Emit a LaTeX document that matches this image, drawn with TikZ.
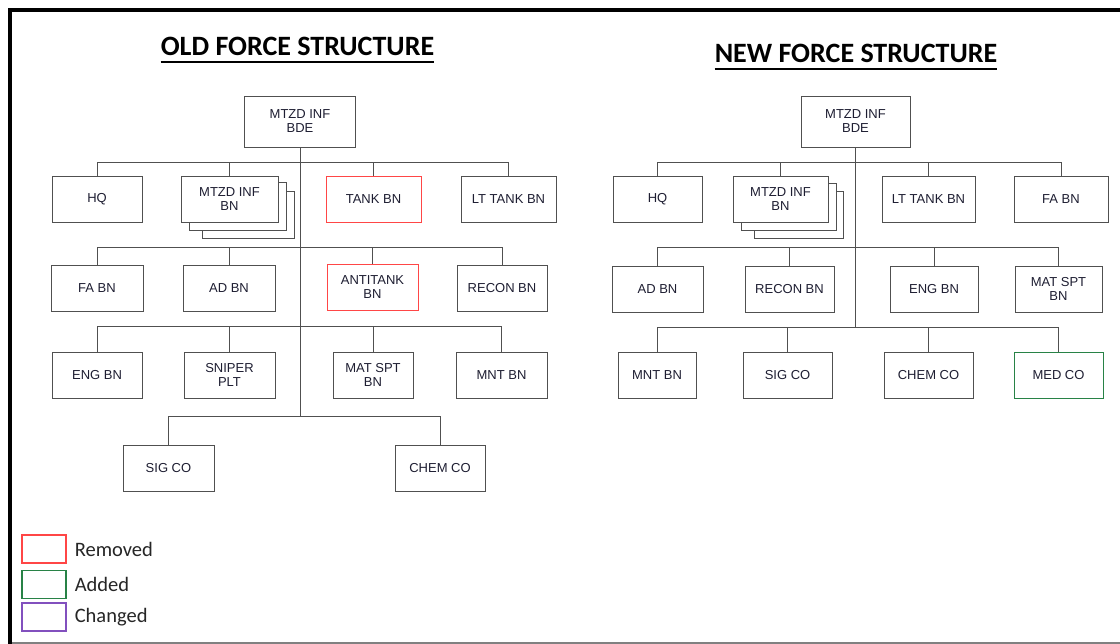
\documentclass[tikz,border=0pt]{standalone}
\usepackage{fontspec}
\setmainfont{Liberation Sans}
\newfontfamily\calibri{Carlito}
\usetikzlibrary{positioning}
\definecolor{lin}{RGB}{80,80,80}
\definecolor{txt}{RGB}{30,30,50}
\definecolor{keytxt}{RGB}{38,38,38}
\definecolor{rem}{RGB}{255,70,70}
\definecolor{add}{RGB}{40,130,70}
\definecolor{chg}{RGB}{130,80,190}
\begin{document}
\begin{tikzpicture}[x=1pt,y=-1pt,every node/.style={inner sep=2pt},
    unit/.style={draw=lin,line width=0.9pt,fill=white,minimum height=46pt,
      minimum width=90pt,align=center,text=txt,font=\fontsize{13}{14}\selectfont},
    wire/.style={draw=lin,line width=0.9pt},
    heading/.style={inner sep=0pt,anchor=base,font=\calibri\bfseries\fontsize{28}{32}\selectfont},
    key/.style={draw,line width=1.2pt,minimum width=44pt,minimum height=28pt},
    keylabel/.style={right=6pt of #1,text=keytxt,font=\calibri\fontsize{20.5}{24}\selectfont}]
  \useasboundingbox(0,0)rectangle(1120,644);
  \fill[white](0,0)rectangle(1120,644);
  \draw[line width=4pt](1120,10)--(10,10)--(10,644);
  \draw[gray,line width=1.5pt](12,643)--(1120,643);
  % titles
  \node[heading](oldt)at(297.5,56){OLD FORCE STRUCTURE};
  \node[heading](newt)at(856,63){NEW FORCE STRUCTURE};
  \draw[line width=2pt]([yshift=-6pt]oldt.base west)--([yshift=-6pt]oldt.base east);
  \draw[line width=2pt]([yshift=-6pt]newt.base west)--([yshift=-6pt]newt.base east);
  % old structure
  \node[unit,minimum width=111pt,minimum height=51pt](obde)at(300,121.5){MTZD INF\\BDE};
  \draw[lin,line width=0.9pt,fill=white](202,191)rectangle(294,238);
  \draw[lin,line width=0.9pt,fill=white](189,182)rectangle(286,230);
  \node[unit](ohq)at(97,199){HQ};
  \node[unit,minimum width=97pt](omech)at(229.5,199){MTZD INF\\BN};
  \node[unit,minimum width=95pt,draw=rem](otank)at(373.5,199){TANK BN};
  \node[unit,minimum width=95pt](oltk)at(508.5,199){LT TANK BN};
  \node[unit,minimum width=92pt](ofa)at(97,288.5){FA BN};
  \node[unit,minimum width=92pt](oad)at(229,288.5){AD BN};
  \node[unit,minimum width=91pt,draw=rem](oat)at(372.5,287){ANTITANK\\BN};
  \node[unit](orecon)at(502,288.5){RECON BN};
  \node[unit](oeng)at(97,375){ENG BN};
  \node[unit,minimum width=91pt](osnip)at(229.5,375){SNIPER\\PLT};
  \node[unit,minimum width=80pt](omat)at(373,375){MAT SPT\\BN};
  \node[unit,minimum width=91pt](omnt)at(501.5,375){MNT BN};
  \node[unit,minimum width=91pt](osig)at(168.5,468){SIG CO};
  \node[unit](ochem)at(440,468){CHEM CO};
  \coordinate(ob1)at(300,162);\coordinate(ob2)at(300,247);
  \coordinate(ob3)at(300,326);\coordinate(ob4)at(300,416);
  \draw[wire](obde)--(ob4);
  \foreach\n in{ohq,omech,otank,oltk}\draw[wire](ob1)-|(\n);
  \foreach\n in{ofa,oad,oat,orecon}\draw[wire](ob2)-|(\n);
  \foreach\n in{oeng,osnip,omat,omnt}\draw[wire](ob3)-|(\n);
  \foreach\n in{osig,ochem}\draw[wire](ob4)-|(\n);
  % new structure
  \node[unit,minimum width=109pt,minimum height=51pt](nbde)at(855.5,121.5){MTZD INF\\BDE};
  \draw[lin,line width=0.9pt,fill=white](754,191)rectangle(843,238);
  \draw[lin,line width=0.9pt,fill=white](741,183)rectangle(836,230);
  \node[unit,minimum width=89pt](nhq)at(657.5,199.5){HQ};
  \node[unit,minimum width=95pt](nmech)at(780.5,199){MTZD INF\\BN};
  \node[unit,minimum width=93pt](nltk)at(928.5,199){LT TANK BN};
  \node[unit,minimum width=94pt](nfa)at(1061,199){FA BN};
  \node[unit,minimum width=91pt](nad)at(657.5,289.5){AD BN};
  \node[unit,minimum width=89pt](nrecon)at(789.5,289){RECON BN};
  \node[unit,minimum width=88pt](neng)at(934,289){ENG BN};
  \node[unit,minimum width=87pt](nmat)at(1058.5,289){MAT SPT\\BN};
  \node[unit,minimum width=78pt](nmnt)at(657,375.5){MNT BN};
  \node[unit,minimum width=89pt](nsig)at(787.5,375.5){SIG CO};
  \node[unit,minimum width=89pt](nchem)at(928.5,375.5){CHEM CO};
  \node[unit,minimum width=89pt,draw=add](nmed)at(1058.5,375.5){MED CO};
  \coordinate(nb1)at(855.5,162);\coordinate(nb2)at(855.5,247);\coordinate(nb3)at(855.5,327);
  \draw[wire](nbde)--(nb3);
  \foreach\n in{nhq,nmech,nltk,nfa}\draw[wire](nb1)-|(\n);
  \foreach\n in{nad,nrecon,neng,nmat}\draw[wire](nb2)-|(\n);
  \foreach\n in{nmnt,nsig,nchem,nmed}\draw[wire](nb3)-|(\n);
  % legend
  \node[key,draw=rem](krem)at(44,549){};
  \node[key,draw=add](kadd)at(44,584.5){};
  \node[key,draw=chg](kchg)at(44,617){};
  \node[keylabel=krem]{Removed};
  \node[keylabel=kadd]{Added};
  \node[keylabel=kchg]{Changed};
\end{tikzpicture}
\end{document}
